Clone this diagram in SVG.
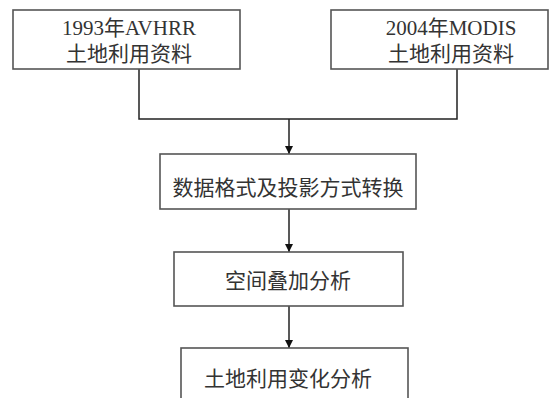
<svg xmlns="http://www.w3.org/2000/svg" width="549" height="398" viewBox="0 0 549 398">
<defs>
<style>
.box{fill:#fff;stroke:#555;stroke-width:1.6}
.t{font-family:"Liberation Serif","Noto Sans CJK SC",serif;font-size:21px;fill:#333;text-anchor:middle}
.c{fill:none;stroke:#222;stroke-width:1.5}
</style>
<marker id="ah" viewBox="0 0 10 10" refX="10" refY="5" markerWidth="8" markerHeight="8" markerUnits="userSpaceOnUse" orient="auto">
<path d="M0,0 L10,5 L0,10 Z" fill="#111"/>
</marker>
</defs>
<rect width="549" height="398" fill="#fff"/>
<g id="connectors">
<polyline class="c" points="139,69 139,119 457,119 457,69"/>
<line class="c" x1="289" y1="119" x2="289" y2="154" marker-end="url(#ah)"/>
<line class="c" x1="289" y1="209" x2="289" y2="252" marker-end="url(#ah)"/>
<line class="c" x1="289" y1="306" x2="289" y2="348" marker-end="url(#ah)"/>
</g>
<g id="n1">
<rect class="box" x="13" y="10" width="227" height="59"/>
<text class="t" x="129" y="35">1993年AVHRR</text>
<text class="t" x="129" y="61">土地利用资料</text>
</g>
<g id="n2">
<rect class="box" x="331" y="10" width="217" height="59"/>
<text class="t" x="451" y="35">2004年MODIS</text>
<text class="t" x="451" y="61">土地利用资料</text>
</g>
<g id="n3">
<rect class="box" x="160" y="154" width="256" height="55"/>
<text class="t" x="288" y="195">数据格式及投影方式转换</text>
</g>
<g id="n4">
<rect class="box" x="174" y="252" width="229" height="54"/>
<text class="t" x="288" y="288">空间叠加分析</text>
</g>
<g id="n5">
<rect class="box" x="181" y="348" width="227" height="60"/>
<text class="t" x="288" y="386">土地利用变化分析</text>
</g>
</svg>
